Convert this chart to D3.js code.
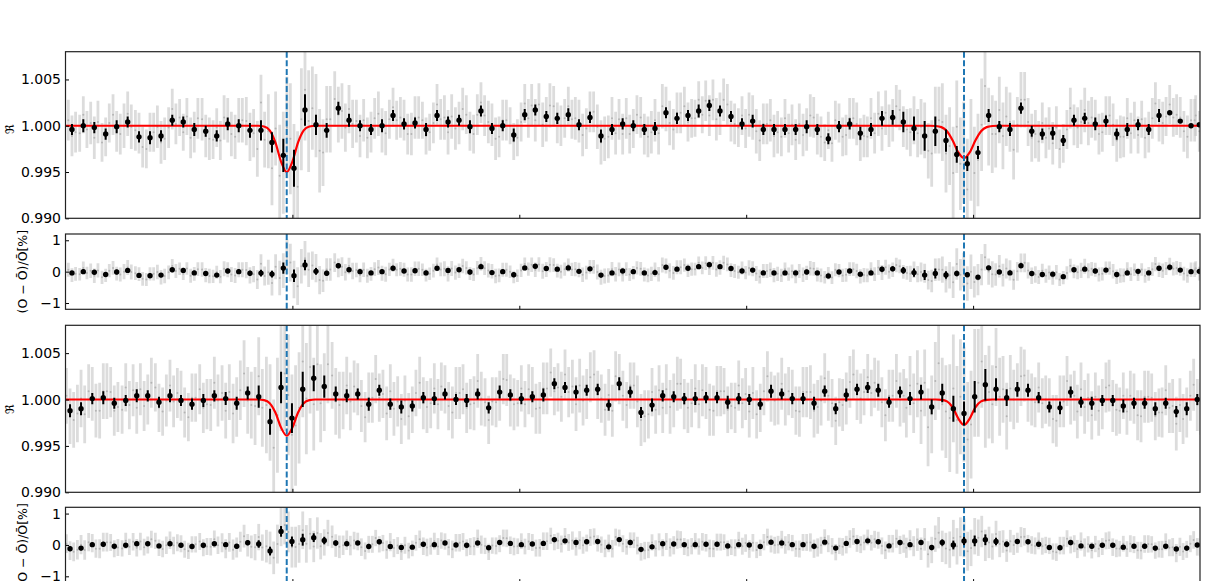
<!DOCTYPE html>
<html>
<head>
<meta charset="utf-8">
<script src="https://cdn.jsdelivr.net/npm/d3@7"></script>
<style>
  body { margin: 0; background: #fff; }
  svg { display: block; font-family: "DejaVu Sans", sans-serif; }
</style>
</head>
<body>
<div id="chart"></div>
<script>
// Na D transmission ratio, two nights (A = top pair of panels, B = bottom pair)
// Wavelengths in Angstrom

// Sodium D2 / D1 line centres (dashed lines)
const lineCentres = [5889.95, 5895.92]
const xTicks = [5890, 5892, 5894, 5896]
const ratioTicks = [0.990, 0.995, 1.000, 1.005]
const residTicks = [-1, 0, 1]

// ---- Night A: binned points ----
const waveA = [
  5888.057, 5888.157, 5888.254, 5888.354, 5888.451, 5888.548, 5888.648, 5888.745, 5888.842, 5888.941,
  5889.038, 5889.135, 5889.236, 5889.333, 5889.430, 5889.527, 5889.626, 5889.723, 5889.820, 5889.920,
  5890.014, 5890.111, 5890.208, 5890.302, 5890.405, 5890.499, 5890.596, 5890.693, 5890.790, 5890.887,
  5890.984, 5891.081, 5891.178, 5891.275, 5891.372, 5891.469, 5891.565, 5891.662, 5891.759, 5891.854,
  5891.951, 5892.048, 5892.141, 5892.238, 5892.335, 5892.432, 5892.526, 5892.623, 5892.720, 5892.817,
  5892.911, 5893.005, 5893.102, 5893.196, 5893.293, 5893.390, 5893.487, 5893.581, 5893.675, 5893.769,
  5893.866, 5893.963, 5894.057, 5894.151, 5894.245, 5894.342, 5894.436, 5894.533, 5894.627, 5894.724,
  5894.818, 5894.912, 5895.006, 5895.100, 5895.197, 5895.291, 5895.385, 5895.479, 5895.573, 5895.667,
  5895.761, 5895.856, 5895.949, 5896.043, 5896.137, 5896.231, 5896.325, 5896.422, 5896.517, 5896.610,
  5896.702, 5896.795, 5896.889, 5896.984, 5897.077, 5897.171, 5897.266, 5897.359, 5897.454, 5897.548,
  5897.639, 5897.733, 5897.826, 5897.921, 5897.994
]
const ratioA = [
  0.9996, 1.0000, 0.9998, 0.9991, 0.9999, 1.0004, 0.9988, 0.9987, 0.9989, 1.0006,
  1.0004, 0.9996, 0.9994, 0.9989, 1.0002, 1.0000, 0.9995, 0.9995, 0.9982, 0.9968,
  0.9954, 1.0017, 1.0001, 0.9995, 1.0019, 1.0006, 1.0000, 0.9996, 1.0000, 1.0011,
  1.0002, 1.0003, 0.9996, 1.0011, 1.0004, 1.0006, 0.9999, 1.0016, 0.9997, 1.0000,
  0.9990, 1.0012, 1.0017, 1.0010, 1.0008, 1.0012, 1.0001, 1.0009, 0.9989, 0.9996,
  1.0002, 1.0000, 0.9996, 0.9997, 1.0014, 1.0008, 1.0011, 1.0016, 1.0022, 1.0016,
  1.0010, 1.0002, 1.0005, 0.9996, 0.9996, 0.9996, 0.9996, 0.9999, 0.9996, 0.9986,
  0.9999, 1.0002, 0.9992, 0.9996, 1.0008, 1.0009, 1.0004, 0.9997, 0.9989, 0.9994,
  0.9984, 0.9969, 0.9959, 0.9971, 1.0011, 0.9999, 0.9996, 1.0019, 0.9994, 0.9991,
  0.9992, 0.9984, 1.0006, 1.0008, 1.0002, 1.0005, 0.9991, 0.9996, 1.0001, 0.9996,
  1.0011, 1.0014, 1.0005, 1.0000, 1.0001
]
// 1-sigma error of binned points, units of 1e-4
const errA = [
  6, 7, 6, 6, 7, 6, 6, 7, 6, 6, 6, 7, 6, 6, 7, 7,
  8, 11, 11, 18, 20, 17, 11, 8, 7, 7,
  6, 6, 7, 6, 6, 6, 7, 6, 6, 6, 7, 6, 6, 6, 7, 6, 6, 6, 6, 7, 6, 6, 7, 6, 6,
  6, 6, 7, 6, 6, 6, 7, 6, 6, 6, 6, 7, 6, 6, 6, 6, 7, 6, 6, 6, 6, 7,
  7, 8, 8, 11, 13, 16, 16, 12, 9, 8, 7, 7,
  6, 7, 6, 6, 6, 7, 6, 6, 6, 7, 6, 6, 7, 6, 6, 7
]
// unbinned points, three per bin, as (R - 1) in units of 1e-4
const greyA = [
  6, -11, -7, -8, 12, -4, 3, -13, 4, -18, -12, 3, 12, -6, -9, 0, 13, -1, -5, -8, -23, -25, -7, -7,
  -1, -18, -14, -2, 18, 2, 9, -7, 10, -13, -7, 8, 7, -11, -14, -15, -2, -16, 9, 6, -9, -12, 6, 6,
  5, -12, -8, -25, 25, -15, -6, -46, -3, -54, -40, -2, -14, -58, -66, 7, 39, 5, 19, 11, -27, -29, 7, 7,
  29, 12, 16, -2, 18, 2, 5, -11, 6, -13, -7, 8, 13, -5, -8, 7, 20, 6, 9, 6, -9, -9, 9, 9,
  6, -11, -7, 3, 23, 7, 9, -7, 10, -3, 3, 18, 12, -6, -9, 12, 25, 11, 4, 1, -14, -12, 6, 6,
  0, -17, -13, 4, 24, 8, 22, 6, 23, 1, 7, 22, 21, 3, 0, 8, 21, 7, 8, 5, -10, -3, 15, 15,
  -1, -18, -14, -12, 8, -8, 7, -9, 8, -9, -3, 12, 9, -9, -12, -7, 6, -8, 21, 18, 3, -4, 14, 14,
  21, 4, 8, 8, 28, 12, 27, 11, 28, 7, 13, 28, 23, 5, 2, -2, 11, -3, 12, 9, -6, -16, 2, 2,
  6, -11, -7, -12, 8, -8, 1, -15, 2, -10, -4, 11, 9, -9, -12, -18, -5, -19, 6, 3, -12, -10, 8, 8,
  2, -15, -11, -12, 8, -8, 13, -3, 14, 0, 6, 21, 17, -1, -4, -7, 6, -8, -1, -5, -27, -30, 6, 6,
  4, -30, -22, -51, -1, -41, -29, -69, -26, -51, -37, 1, 43, -1, -9, -9, 17, -11, 10, 4, -26, 1, 28, 28,
  4, -13, -9, -17, 3, -13, -3, -19, -2, -25, -19, -4, 19, 1, -2, 4, 17, 3, 9, 6, -9, -7, 11, 11,
  1, -16, -12, -12, 8, -8, 6, -10, 7, -13, -7, 8, 24, 6, 3, 10, 23, 9, 12, 9, -6, -12, 6, 6,
  11, -6, -2
]
// error of the unbinned points in each bin, units of 1e-4
const greyErrA = [
  22, 20, 23, 21, 22, 24, 22, 21, 23, 22, 20, 22, 23, 21, 24, 24,
  26, 30, 40, 55, 60, 55, 45, 36, 30, 26,
  23, 22, 24, 21, 22, 23, 20, 22, 24, 23, 21, 22, 23, 22, 20, 21, 23, 24, 22, 21,
  23, 22, 24, 23, 22, 21, 22, 23, 24, 22, 21, 20, 22, 23, 22, 21, 24, 22, 23, 21,
  22, 23, 22, 20, 21, 22, 23, 22, 24, 23, 22,
  26, 30, 36, 42, 50, 55, 50, 42, 36, 32, 30, 26,
  22, 23, 21, 22, 24, 22, 21, 23, 22, 20, 22, 23, 21, 22, 23, 22
]
// fitted model, [wavelength, ratio]
const modelA = [
  [5888.0, 1], [5889.70, 1], [5889.75, 0.99992], [5889.80, 0.99950], [5889.85, 0.99820],
  [5889.90, 0.99612], [5889.95, 0.99500], [5890.00, 0.99612], [5890.05, 0.99820],
  [5890.10, 0.99950], [5890.15, 0.99992], [5890.20, 1],
  [5895.62, 1], [5895.67, 0.99997], [5895.72, 0.99985], [5895.77, 0.99940], [5895.82, 0.99840],
  [5895.87, 0.99712], [5895.92, 0.99650], [5895.97, 0.99712], [5896.02, 0.99840],
  [5896.07, 0.99940], [5896.12, 0.99985], [5896.17, 0.99997], [5896.22, 1], [5898.0, 1]
]

// ---- Night B ----
const waveB = [
  5888.040, 5888.137, 5888.236, 5888.333, 5888.430, 5888.531, 5888.628, 5888.725, 5888.824, 5888.921,
  5889.018, 5889.115, 5889.215, 5889.312, 5889.412, 5889.509, 5889.606, 5889.703, 5889.803, 5889.900,
  5889.996, 5890.091, 5890.188, 5890.281, 5890.382, 5890.479, 5890.576, 5890.673, 5890.766, 5890.863,
  5890.960, 5891.057, 5891.154, 5891.251, 5891.345, 5891.442, 5891.536, 5891.633, 5891.730, 5891.827,
  5891.921, 5892.018, 5892.115, 5892.212, 5892.309, 5892.403, 5892.500, 5892.594, 5892.691, 5892.788,
  5892.881, 5892.978, 5893.073, 5893.170, 5893.264, 5893.361, 5893.454, 5893.551, 5893.646, 5893.743,
  5893.837, 5893.934, 5894.027, 5894.124, 5894.219, 5894.313, 5894.406, 5894.501, 5894.598, 5894.692,
  5894.789, 5894.882, 5894.977, 5895.071, 5895.164, 5895.259, 5895.356, 5895.444, 5895.541, 5895.635,
  5895.728, 5895.826, 5895.920, 5896.014, 5896.108, 5896.202, 5896.296, 5896.390, 5896.484, 5896.578,
  5896.672, 5896.766, 5896.860, 5896.951, 5897.046, 5897.139, 5897.231, 5897.324, 5897.418, 5897.512,
  5897.606, 5897.698, 5897.791, 5897.883, 5897.976
]
const ratioB = [
  0.9988, 0.9990, 1.0001, 1.0002, 0.9996, 0.9999, 1.0004, 1.0004, 0.9997, 1.0004,
  0.9999, 0.9995, 0.9999, 1.0004, 1.0001, 0.9996, 1.0007, 1.0003, 0.9976, 1.0013,
  0.9980, 1.0011, 1.0023, 1.0014, 1.0006, 1.0004, 1.0006, 0.9995, 1.0010, 0.9995,
  0.9992, 0.9993, 1.0002, 1.0001, 1.0006, 1.0000, 0.9999, 1.0006, 0.9991, 1.0008,
  1.0005, 1.0001, 1.0003, 1.0005, 1.0017, 1.0013, 1.0008, 1.0010, 1.0011, 0.9994,
  1.0017, 1.0008, 0.9986, 0.9994, 1.0004, 1.0003, 1.0001, 1.0001, 1.0002, 1.0002,
  0.9997, 1.0001, 1.0000, 0.9995, 1.0009, 1.0006, 1.0001, 1.0001, 0.9996, 1.0009,
  0.9990, 1.0005, 1.0011, 1.0013, 1.0010, 0.9997, 1.0008, 1.0001, 1.0008, 0.9992,
  1.0007, 0.9990, 0.9985, 1.0003, 1.0016, 1.0011, 1.0002, 1.0011, 1.0010, 1.0002,
  0.9992, 0.9991, 1.0008, 0.9997, 0.9996, 0.9999, 0.9999, 0.9993, 0.9996, 0.9996,
  0.9990, 0.9996, 0.9987, 0.9990, 1.0000
]
const errB = [
  7, 7, 6, 7, 6, 6, 7, 6, 6, 7, 6, 6, 7, 6,
  7, 7, 7, 12, 14, 17, 16, 19, 14, 12, 8, 7,
  6, 7, 6, 6, 7, 6, 6, 7, 6, 6, 7, 6, 6, 7, 6, 6, 6, 7, 6, 6, 7, 6, 6, 6, 7,
  6, 6, 7, 6, 6, 6, 7, 6, 6, 7, 6, 6, 6, 7, 6, 6, 6, 7, 6, 6, 7, 6, 6, 7, 6, 6,
  7, 8, 8, 10, 14, 13, 17, 17, 12, 9, 8,
  7, 6, 6, 7, 6, 6, 7, 6, 6, 7, 6, 6, 7, 6, 6, 7, 6
]
const greyB = [
  4, -18, -22, -15, 1, -16, 9, 6, -12, -12, 9, 9, 8, -12, -8, -11, 13, -6, 10, -9, 11, -7, 0, 18,
  13, -9, -13, -1, 15, -2, 7, 4, -14, -19, 2, 2, 11, -9, -5, -6, 18, -1, 7, -12, 8, -15, -8, 10,
  28, -1, -6, -7, 25, -9, -6, -14, -52, -17, 28, 28, 5, -38, -28, -9, 41, 1, 35, -5, 38, -4, 8, 38,
  26, -2, -6, -1, 15, -2, 14, 11, -7, -19, 2, 2, 22, 2, 6, -15, 9, -10, -2, -21, -1, -18, -11, 7,
  18, -4, -8, -4, 12, -5, 14, 11, -7, -14, 7, 7, 11, -9, -5, -4, 20, 1, -3, -22, -2, -3, 4, 22,
  21, -1, -5, -4, 12, -5, 11, 8, -10, -9, 12, 12, 29, 9, 13, 3, 27, 8, 14, -5, 15, -1, 6, 24,
  27, 5, 1, -11, 5, -12, 25, 22, 4, -6, 15, 15, -2, -22, -18, -16, 8, -11, 10, -9, 11, -8, -1, 17,
  17, -5, -9, -4, 12, -5, 10, 7, -11, -12, 9, 9, 9, -11, -7, -9, 15, -4, 6, -13, 7, -16, -9, 9,
  25, 3, -1, 1, 17, 0, 9, 6, -12, -13, 8, 8, 8, -12, -8, -1, 23, 4, -4, -23, -3, -6, 1, 19,
  27, 5, 1, 8, 24, 7, 18, 15, -3, -17, 4, 4, 20, 0, 4, -9, 15, -4, 17, -12, 18, -30, -16, 20,
  39, -5, -13, -20, 12, -22, 3, -5, -43, -27, 18, 18, 41, -2, 8, -5, 35, 3, 11, -18, 12, 0, 7, 25,
  26, 4, 0, -3, 13, -4, 0, -3, -21, -23, -2, -2, 20, 0, 4, -13, 11, -8, 2, -17, 3, -12, -5, 13,
  15, -7, -11, -12, 4, -13, 4, 1, -17, -18, 3, 3, 2, -18, -14, -14, 10, -9, -7, -26, -6, -21, -14, 4,
  16, -6, -10
]
const greyErrB = [
  30, 31, 29, 30, 27, 26, 28, 27, 26, 28, 27, 26, 27, 28,
  30, 32, 36, 42, 52, 62, 65, 60, 50, 42, 36, 31,
  28, 27, 26, 29, 27, 25, 28, 27, 26, 28, 27, 29, 26, 27, 28, 25, 27, 28, 26, 27,
  29, 27, 26, 28, 27, 25, 28, 26, 27, 29, 27, 26, 28, 27, 25, 27, 28, 26, 27, 28,
  26, 27, 29, 27, 26, 28, 27, 25, 27, 28, 29,
  32, 36, 42, 50, 58, 62, 58, 50, 42, 36, 32,
  28, 27, 26, 28, 27, 29, 26, 27, 28, 25, 27, 28, 26, 27, 29, 27, 28
]
const modelB = [
  [5888.0, 1], [5889.70, 1], [5889.75, 0.99993], [5889.80, 0.99961], [5889.85, 0.99860],
  [5889.90, 0.99698], [5889.95, 0.99610], [5890.00, 0.99698], [5890.05, 0.99860],
  [5890.10, 0.99961], [5890.15, 0.99993], [5890.20, 1],
  [5895.67, 1], [5895.72, 0.99997], [5895.77, 0.99980], [5895.82, 0.99916],
  [5895.87, 0.99795], [5895.92, 0.99725], [5895.97, 0.99795], [5896.02, 0.99916],
  [5896.07, 0.99980], [5896.12, 0.99997], [5896.17, 1], [5898.0, 1]
]

const nights = [
  { wave: waveA, ratio: ratioA, err: errA, grey: greyA, greyErr: greyErrA, model: modelA },
  { wave: waveB, ratio: ratioB, err: errB, grey: greyB, greyErr: greyErrB, model: modelB }
]

// Vars for layout
const width = 1229
const height = 581
const plotLeft = 65.5
const plotRight = 1200
const panels = [
  { top: 51.7, bottom: 218.3, kind: 'ratio', night: 0, labelY: 129 },
  { top: 234, bottom: 309.3, kind: 'resid', night: 0 },
  { top: 325.3, bottom: 492.3, kind: 'ratio', night: 1, labelY: 409 },
  { top: 507.3, bottom: 582.6, kind: 'resid', night: 1 }
]
const greyOffsets = [-0.032, 0, 0.032]

const svg = d3.select('#chart')
  .append('svg')
  .attr('width', width)
  .attr('height', height)

const x = d3.scaleLinear().domain([5888, 5898]).range([plotLeft, plotRight])

panels.forEach((p, k) => {
  const n = nights[p.night]
  const resid = p.kind === 'resid'
  const y = d3.scaleLinear()
    .domain(resid ? [-1.2, 1.2] : [0.990, 1.008])
    .range([p.bottom, p.top])

  // piecewise model lookup for the residuals
  const modelAt = d3.scaleLinear()
    .domain(n.model.map(d => d[0]))
    .range(n.model.map(d => d[1]))
    .clamp(true)

  const toPanel = (w, r, e) => resid
    ? { w, v: (r - modelAt(w)) * 100, e: e * 100 }
    : { w, v: r, e }

  const greyPts = n.grey.map((v, i) => {
    const b = Math.floor(i / 3)
    const w = n.wave[b] + greyOffsets[i % 3]
    return toPanel(w, 1 + v * 1e-4, n.greyErr[b] * 1e-4)
  })
  const binPts = n.ratio.map((r, i) => toPanel(n.wave[i], r, n.err[i] * 1e-4))

  // clip everything to the axes box
  svg.append('clipPath')
    .attr('id', 'clip' + k)
    .append('rect')
    .attr('x', plotLeft)
    .attr('y', p.top)
    .attr('width', plotRight - plotLeft)
    .attr('height', p.bottom - p.top)

  const g = svg.append('g').attr('clip-path', `url(#clip${k})`)

  // unbinned points - light grey error bars
  g.append('g')
    .selectAll('line')
    .data(greyPts)
    .join('line')
    .attr('x1', d => x(d.w))
    .attr('x2', d => x(d.w))
    .attr('y1', d => y(d.v - d.e))
    .attr('y2', d => y(d.v + d.e))
    .attr('stroke', '#c4c4c4')
    .attr('stroke-opacity', 0.6)
    .attr('stroke-width', 2.8)

  g.append('g')
    .selectAll('circle')
    .data(greyPts)
    .join('circle')
    .attr('cx', d => x(d.w))
    .attr('cy', d => y(d.v))
    .attr('r', 1)
    .attr('fill', '#b4b4b4')

  // model line
  if (!resid) {
    g.append('path')
      .datum(n.model)
      .attr('fill', 'none')
      .attr('stroke', '#ff0000')
      .attr('stroke-width', 2.2)
      .attr('d', d3.line().x(d => x(d[0])).y(d => y(d[1])).curve(d3.curveMonotoneX))
  }

  // line centres
  g.append('g')
    .selectAll('line')
    .data(lineCentres)
    .join('line')
    .attr('x1', d => x(d))
    .attr('x2', d => x(d))
    .attr('y1', p.top)
    .attr('y2', p.bottom)
    .attr('stroke', '#1f77b4')
    .attr('stroke-width', 2)
    .attr('stroke-dasharray', '6,2.6')

  // binned points
  g.append('g')
    .selectAll('line')
    .data(binPts)
    .join('line')
    .attr('x1', d => x(d.w))
    .attr('x2', d => x(d.w))
    .attr('y1', d => y(d.v - d.e))
    .attr('y2', d => y(d.v + d.e))
    .attr('stroke', '#000')
    .attr('stroke-width', 2)

  g.append('g')
    .selectAll('circle')
    .data(binPts)
    .join('circle')
    .attr('cx', d => x(d.w))
    .attr('cy', d => y(d.v))
    .attr('r', 2.7)
    .attr('fill', '#000')

  // Left axis - inward ticks
  const left = svg.append('g')
    .attr('transform', `translate(${plotLeft},0)`)
    .call(
      d3.axisLeft(y)
        .tickValues(resid ? residTicks : ratioTicks)
        .tickFormat(resid ? d3.format('d') : d3.format('.3f'))
        .tickSizeInner(-3.5)
        .tickSizeOuter(0)
        .tickPadding(4.5)
    )
  left.select('.domain').remove()
  left.attr('font-size', 14).attr('font-family', '"DejaVu Sans", sans-serif')
  left.selectAll('text').attr('fill', '#000')
  left.selectAll('line').attr('stroke', '#000')

  // Bottom axis - ticks only, labels are shared
  const bottom = svg.append('g')
    .attr('transform', `translate(0,${p.bottom})`)
    .call(
      d3.axisBottom(x)
        .tickValues(xTicks)
        .tickFormat('')
        .tickSizeInner(-3.5)
        .tickSizeOuter(0)
    )
  bottom.select('.domain').remove()
  bottom.selectAll('line').attr('stroke', '#000')

  // frame
  svg.append('rect')
    .attr('x', plotLeft)
    .attr('y', p.top)
    .attr('width', plotRight - plotLeft)
    .attr('height', p.bottom - p.top)
    .attr('fill', 'none')
    .attr('stroke', '#222')
    .attr('stroke-width', 1.2)

  // y labels
  if (resid) {
    svg.append('text')
      .attr('transform', `translate(26.5,${(p.top + p.bottom) / 2}) rotate(-90)`)
      .attr('text-anchor', 'middle')
      .attr('font-size', 12.5)
      .attr('fill', '#000')
      .text('(O − Ō)/Ō[%]')
  } else {
    svg.append('text')
      .attr('transform', `translate(14,${p.labelY}) rotate(-90)`)
      .attr('text-anchor', 'middle')
      .attr('font-size', 12)
      .attr('fill', '#000')
      .text('ℜ')
  }
})
</script>
</body>
</html>
